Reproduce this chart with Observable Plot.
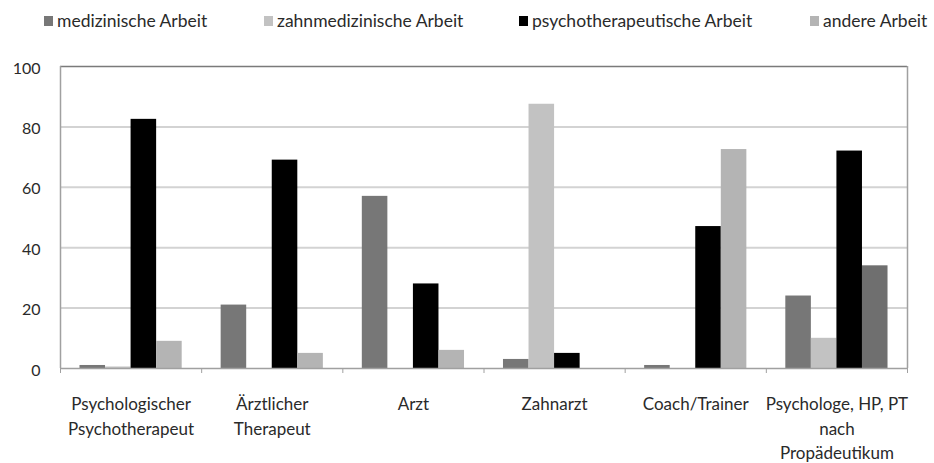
<!DOCTYPE html>
<html><head><meta charset="utf-8">
<script src="https://cdn.jsdelivr.net/npm/d3@7"></script>
<script src="https://cdn.jsdelivr.net/npm/@observablehq/plot@0.6"></script>
<style>
body{margin:0;background:#fff;}
#wrap{position:relative;width:934px;height:463px;font-family:Lato,"Open Sans",sans-serif;color:#2a2a2a;}
#legend{position:absolute;top:0;left:0;width:934px;height:40px;}
.item{position:absolute;top:10px;display:flex;align-items:center;font-size:17.5px;white-space:nowrap;}
.sw{width:9px;height:10px;margin-right:4px;}
#chart{position:absolute;top:0;left:0;}
</style></head><body>
<div id="wrap"><div id="chart"></div><div id="legend"></div></div>
<script>
const categories = ["Psychologischer\nPsychotherapeut", "Ärztlicher\nTherapeut", "Arzt", "Zahnarzt", "Coach/Trainer", "Psychologe, HP, PT\nnach\nPropädeutikum"];
const seriesNames = ["medizinische Arbeit", "zahnmedizinische Arbeit", "psychotherapeutische Arbeit", "andere Arbeit"];
const medizinisch = [1, 21, 57, 3, 1, 24];
const zahnmedizinisch = [0.5, 0, 0, 87.5, 0, 10];
const psychotherapeutisch = [82.5, 69, 28, 5, 47, 72];
const andere = [9, 5, 6, 0, 72.5, 34];
const yTicks = [0, 20, 40, 60, 80, 100];

// styles
const seriesColors = ["#777777", "#c2c2c2", "#000000", "#b4b4b4"];
const oddFill = "#6f6f6f"; // last group's "andere" bar is drawn dark in the original
const legendX = [44, 264, 519, 810];

const values = [medizinisch, zahnmedizinisch, psychotherapeutisch, andere];
const data = categories.flatMap((c, i) => seriesNames.map((s, j) => ({cat: c, ci: i, series: s, sj: j, value: values[j][i]})));

const pad = 0.138, bw = (1 - 2 * pad) / seriesNames.length;
const fillOf = d => (d.ci === categories.length - 1 && d.sj === 3) ? oddFill : seriesColors[d.sj];

const chart = Plot.plot({
  width: 934, height: 463,
  marginLeft: 60, marginRight: 27, marginTop: 66, marginBottom: 95,
  x: {domain: [0, categories.length], axis: null},
  y: {domain: [0, 100], axis: null},
  style: {fontFamily: "Lato, 'Open Sans', sans-serif", color: "#2a2a2a", background: "#fff"},
  marks: [
    Plot.ruleY(yTicks.filter(v => v > 0 && v < 100), {stroke: "#d3d3d3", strokeWidth: 2}),
    Plot.rectY(data, {x1: d => d.ci + pad + d.sj * bw, x2: d => d.ci + pad + (d.sj + 1) * bw, y1: 0, y2: "value", fill: fillOf}),
    Plot.ruleY([0], {stroke: "#a0a0a0", strokeWidth: 1.5}),
    Plot.ruleY([100], {stroke: "#7a7a7a", strokeWidth: 1.5}),
    Plot.ruleX([0, categories.length], {y1: 0, y2: 100, stroke: "#a0a0a0", strokeWidth: 1.5}),
    Plot.axisY({ticks: yTicks, tickSize: 0, tickPadding: 20, fontSize: 16, dy: 2, label: null}),
    Plot.axisX({ticks: d3.range(categories.length + 1), tickSize: 5, tickFormat: () => "", stroke: "#a0a0a0", label: null}),
    Plot.axisX({ticks: categories.map((c, i) => i + 0.5), tickSize: 0, tickPadding: 24, tickFormat: v => categories[Math.floor(v)], fontSize: 17, lineHeight: 1.45, label: null})
  ]
});
document.getElementById("chart").appendChild(chart);

const legend = document.getElementById("legend");
seriesNames.forEach((s, j) => {
  const it = document.createElement("div");
  it.className = "item";
  it.style.left = legendX[j] + "px";
  it.innerHTML = `<span class="sw" style="background:${seriesColors[j]}"></span><span>${s}</span>`;
  legend.appendChild(it);
});
</script>
</body></html>
